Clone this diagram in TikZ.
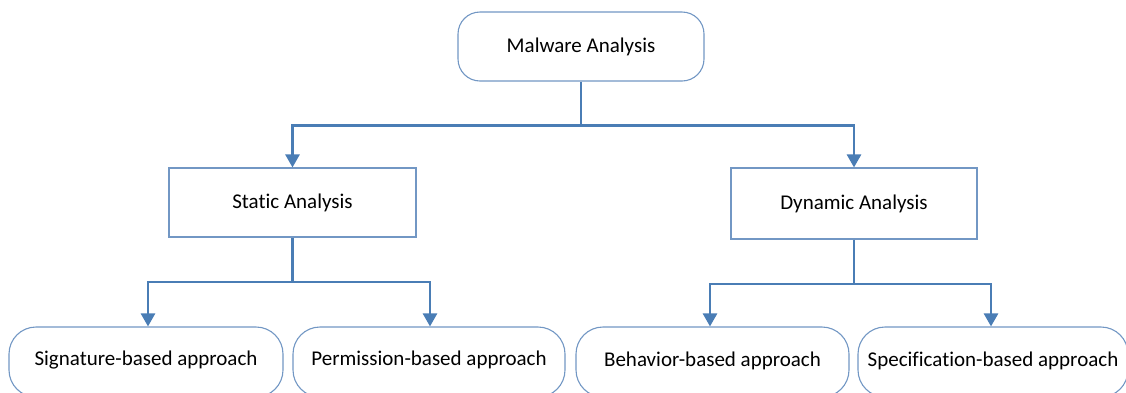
\documentclass[tikz,border=0pt]{standalone}
\usepackage{fontspec}
\setmainfont[Ligatures=NoCommon]{Carlito}
\usetikzlibrary{arrows.meta}
\definecolor{linkblue}{HTML}{4A7DB5}
\definecolor{boxblue}{HTML}{7297C4}
\tikzset{
  base/.style={draw=boxblue, line width=1.1pt, fill=white, inner sep=0pt, font=\fontsize{21}{25}\selectfont, text=black},
  roundbox/.style={base, rounded corners=22pt},
  rectbox/.style={base},
  link/.style={draw=linkblue, line width=2.6pt},
  arrowlink/.style={link, -{Triangle[length=13pt,width=14pt]}},
}
\begin{document}
\begin{tikzpicture}[x=1pt,y=-1pt]
\useasboundingbox (0,0) rectangle (1126,392);
\clip (0,0) rectangle (1126,392);
% nodes
\node[roundbox, minimum width=246pt, minimum height=69pt] (root) at (581,46.5) {\raisebox{-1pt}{Malware Analysis}};
\node[rectbox, minimum width=247pt, minimum height=69pt] (static) at (292.5,202.5) {Static Analysis};
\node[rectbox, minimum width=246pt, minimum height=71pt] (dynamic) at (854,203.5) {Dynamic Analysis};
\node[roundbox, rounded corners=27pt, minimum width=274pt, minimum height=70pt] (sig) at (146,362) {\raisebox{8pt}{Signature-based approach}};
\node[roundbox, rounded corners=27pt, minimum width=272pt, minimum height=70pt] (perm) at (429,362) {\raisebox{8pt}{Permission-based approach}};
\node[roundbox, rounded corners=27pt, minimum width=273pt, minimum height=70pt] (beh) at (712.5,362) {\raisebox{6pt}{Behavior-based approach}};
\node[roundbox, rounded corners=27pt, minimum width=270pt, minimum height=70pt] (spec) at (993,362) {\raisebox{6pt}{Specification-based approach}};
% junction coordinates
\coordinate (j1) at (581,125.5);
\coordinate (j2) at (292.5,282);
\coordinate (j3) at (854,284);
% connectors
\draw[link] (root.south) -- (j1);
\draw[arrowlink] (j1) -| (static.north);
\draw[arrowlink] (j1) -| (dynamic.north);
\draw[link] (static.south) -- (j2);
\draw[arrowlink] (j2) -| ([xshift=2pt]sig.north);
\draw[arrowlink] (j2) -| ([xshift=1pt]perm.north);
\draw[link] (dynamic.south) -- (j3);
\draw[arrowlink] (j3) -| ([xshift=-2.5pt]beh.north);
\draw[arrowlink] (j3) -| ([xshift=-2pt]spec.north);
\end{tikzpicture}
\end{document}
